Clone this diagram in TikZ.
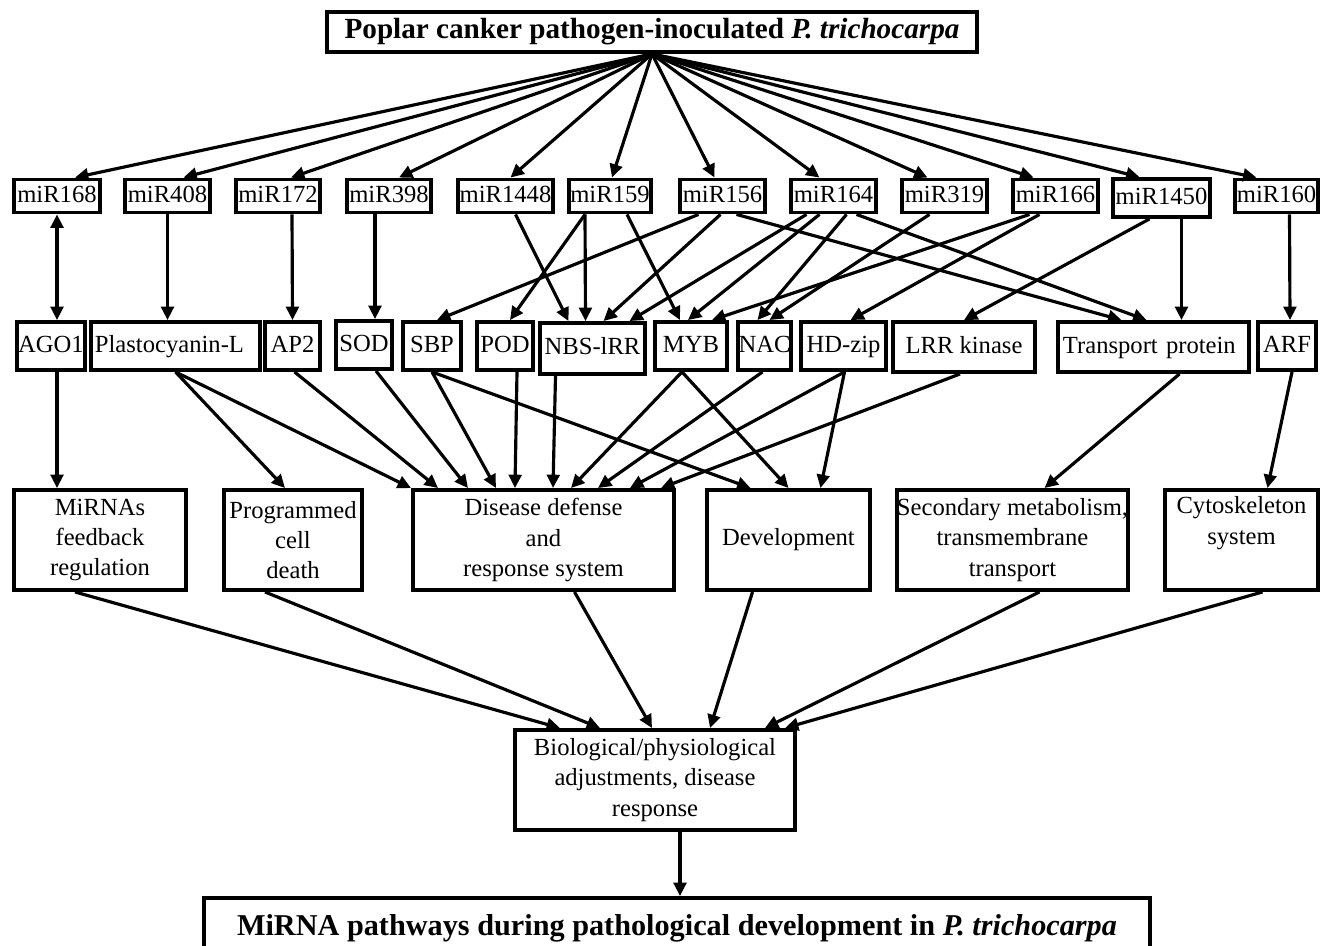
\documentclass[tikz,border=0pt]{standalone}
\usepackage{fontspec}
\setmainfont{Liberation Serif}
\usetikzlibrary{arrows.meta,calc}
\tikzset{
    every node/.style={rectangle, draw, line width=1.1pt, inner sep=0pt, align=center,
      font=\fontsize{7}{8.6}\selectfont},
    mirbox/.style={minimum height=0.33cm, text height=5pt, text depth=1.5pt},
    genebox/.style={minimum height=0.48cm, text height=5pt, text depth=1.5pt},
    funcbox/.style={minimum height=1cm},
    headbox/.style={font=\fontsize{8.3}{10}\selectfont\bfseries},
    arr/.style={line width=0.9pt, -{Triangle[length=3.8pt,width=3.6pt]}},
    twoarr/.style={line width=0.9pt, {Triangle[length=3.8pt,width=3.6pt]}-{Triangle[length=3.8pt,width=3.6pt]}}
}

\begin{document}
\begin{tikzpicture}[x=0.01cm, y=-0.01cm]
  \useasboundingbox (0,0) rectangle (1324,946);
  \node (top) [headbox, minimum width=6.5cm, minimum height=0.4cm] at (652,32) {Poplar canker pathogen-inoculated \textit{P. trichocarpa}};

  % miRNAs
  \node (m168) [mirbox, minimum width=0.86cm] at (57,196) {miR168};
  \node (m408) [mirbox, minimum width=0.85cm] at (167.5,196) {miR408};
  \node (m172) [mirbox, minimum width=0.84cm] at (278,196) {miR172};
  \node (m398) [mirbox, minimum width=0.84cm] at (389,196) {miR398};
  \node (m1448) [mirbox, minimum width=0.95cm] at (505.5,196) {miR1448};
  \node (m159) [mirbox, minimum width=0.82cm] at (610,196) {miR159};
  \node (m156) [mirbox, minimum width=0.85cm] at (722.5,196) {miR156};
  \node (m164) [mirbox, minimum width=0.85cm] at (833.5,196) {miR164};
  \node (m319) [mirbox, minimum width=0.85cm] at (944.5,196) {miR319};
  \node (m166) [mirbox, minimum width=0.85cm] at (1055.5,196) {miR166};
  \node (m1450) [mirbox, minimum height=0.38cm, minimum width=0.97cm] at (1161.5,198) {miR1450};
  \node (m160) [mirbox, minimum width=0.83cm] at (1276.5,196) {miR160};

  % target genes
  \node (ago) [genebox, minimum width=0.68cm] at (51,346) {AGO1};
  \node (plc) [genebox, minimum width=1.69cm, text width=1.61cm, inner xsep=0.04cm, align=left] at (175.5,346) {Plastocyanin-L};
  \node (ap2) [genebox, minimum width=0.55cm] at (292.5,346) {AP2};
  \node (sod) [genebox, minimum width=0.56cm] at (364,345) {SOD};
  \node (sbp) [genebox, minimum width=0.58cm] at (432,346) {SBP};
  \node (pod) [genebox, minimum width=0.56cm] at (505,346) {POD};
  \node (nbs) [genebox, minimum height=0.51cm, minimum width=1.05cm] at (592.5,348.5) {NBS-lRR};
  \node (myb) [genebox, minimum width=0.72cm] at (691,346) {MYB};
  \node (nac) [genebox, minimum width=0.53cm] at (764.5,346) {NAC};
  \node (hdz) [genebox, minimum width=0.85cm] at (843.5,346) {HD-zip};
  \node (lrr) [genebox, minimum height=0.5cm, minimum width=1.42cm] at (964,347) {LRR kinase};
  \node (tra) [genebox, minimum height=0.5cm, minimum width=1.91cm, text width=1.81cm, inner xsep=0.05cm, align=left] at (1153.5,347) {Transport protein};
  \node (arf) [genebox, minimum width=0.58cm] at (1287,346) {ARF};

  % functions
  \node (fb) [funcbox, minimum width=1.72cm] at (100,540) {MiRNAs\\feedback\\regulation};
  \node (pcd) [funcbox, minimum width=1.38cm] at (293,540) {Programmed\\cell\\death};
  \node (dis) [funcbox, minimum width=2.61cm] at (543.5,540) {Disease defense\\and\\response system};
  \node (dev) [funcbox, minimum width=1.63cm] at (788.5,540) {Development};
  \node (sec) [funcbox, minimum width=2.19cm] at (1012.5,540) {Secondary metabolism,\\transmembrane\\transport};
  \node (cyt) [funcbox, minimum width=1.53cm] at (1241.5,540) {Cytoskeleton\\system\\\strut};

  \node (bio) [minimum height=1cm, minimum width=2.8cm] at (655,780) {Biological/physiological\\adjustments, disease\\response};
  \node (fin) [headbox, minimum width=9.45cm, minimum height=0.6cm, font=\fontsize{8.6}{10}\selectfont\bfseries] at (677,928) {MiRNA pathways during pathological development in \textit{P. trichocarpa}};

  % pathogen to miRNAs
  \draw[arr] (top.south) -- ($(m168.north)+(18,0)$);
  \draw[arr] (top.south) -- ($(m408.north)+(16,0)$);
  \draw[arr] (top.south) -- ($(m172.north)+(13,0)$);
  \draw[arr] (top.south) -- ($(m398.north)+(10,0)$);
  \draw[arr] (top.south) -- ($(m1448.north)+(5,0)$);
  \draw[arr] (top.south) -- ($(m159.north)+(2,0)$);
  \draw[arr] (top.south) -- ($(m156.north)+(-8,0)$);
  \draw[arr] (top.south) -- ($(m164.north)+(-14,0)$);
  \draw[arr] (top.south) -- ($(m319.north)+(-17,0)$);
  \draw[arr] (top.south) -- ($(m166.north)+(-22,0)$);
  \draw[arr] (top.south) -- ($(m1450.north)+(-22,0)$);
  \draw[arr] (top.south) -- ($(m160.north)+(-20,0)$);

  % miRNAs to targets
  \draw[twoarr] (m168.south) -- ($(ago.north)+(6,0)$);
  \draw[arr] (m408.south) -- ($(plc.north)+(-8,0)$);
  \draw[arr] ($(m172.south)+(14,0)$) -- (ap2.north);
  \draw[arr] ($(m398.south)+(-14,0)$) -- ($(sod.north)+(11,0)$);
  \draw[arr] ($(m1448.south)+(10,0)$) -- ($(nbs.north)+(-24,0)$);
  \draw[arr] ($(m159.south)+(-25,0)$) -- ($(pod.north)+(5,0)$);
  \draw[arr] ($(m159.south)+(-25,0)$) -- ($(nbs.north)+(-7,0)$);
  \draw[arr] ($(m159.south)+(17,0)$) -- ($(myb.north)+(-11,0)$);
  \draw[arr] ($(m156.south)+(-24,0)$) -- ($(sbp.north)+(5,0)$);
  \draw[arr] ($(m156.south)+(-2,0)$) -- ($(nbs.north)+(11,0)$);
  \draw[arr] ($(m156.south)+(14,0)$) -- ($(tra.north)+(-32,0)$);
  \draw[arr] ($(m164.south)+(-27,0)$) -- ($(nbs.north)+(37,0)$);
  \draw[arr] ($(m164.south)+(-14,0)$) -- ($(myb.north)+(-3,0)$);
  \draw[arr] ($(m164.south)+(13,0)$) -- ($(nac.north)+(-7,0)$);
  \draw[arr] ($(m164.south)+(23,0)$) -- ($(tra.north)+(-7,0)$);
  \draw[arr] ($(m319.south)+(-15,0)$) -- ($(nac.north)+(5,0)$);
  \draw[arr] ($(m166.south)+(-26,0)$) -- ($(myb.north)+(21,0)$);
  \draw[arr] ($(m166.south)+(-16,0)$) -- ($(hdz.north)+(7,0)$);
  \draw[arr] ($(m1450.south)+(-12,0)$) -- (lrr.north);
  \draw[arr] ($(m1450.south)+(20,0)$) -- ($(tra.north)+(28,0)$);
  \draw[arr] ($(m160.south)+(13,0)$) -- ($(arf.north)+(3,0)$);

  % targets to functions
  \draw[arr] ($(ago.south)+(6,0)$) -- ($(fb.north)+(-43,0)$);
  \draw[arr] (plc.south) -- ($(pcd.north)+(-8,0)$);
  \draw[arr] (plc.south) -- (dis.north west);
  \draw[arr] ($(ap2.south)+(2,0)$) -- ($(dis.north west)+(27,0)$);
  \draw[arr] ($(sod.south)+(12,0)$) -- ($(dis.north west)+(57,0)$);
  \draw[arr] (sbp.south) -- ($(dis.north west)+(85,0)$);
  \draw[arr] (sbp.south) -- ($(dev.north)+(-38,0)$);
  \draw[arr] ($(pod.south)+(12,0)$) -- ($(dis.north west)+(104,0)$);
  \draw[arr] ($(nbs.south)+(-37,0)$) -- ($(dis.north west)+(142,0)$);
  \draw[arr] ($(myb.south)+(-9,0)$) -- ($(dis.north west)+(160,0)$);
  \draw[arr] ($(myb.south)+(-9,0)$) -- (dev.north);
  \draw[arr] ($(nac.south)+(-2,0)$) -- ($(dis.north west)+(187,0)$);
  \draw[arr] ($(hdz.south)+(1,0)$) -- ($(dis.north west)+(219,0)$);
  \draw[arr] ($(hdz.south)+(1,0)$) -- ($(dev.north)+(32,0)$);
  \draw[arr] ($(lrr.south)+(-4,0)$) -- ($(dis.north west)+(250,0)$);
  \draw[arr] ($(tra.south)+(26,0)$) -- ($(sec.north)+(32,0)$);
  \draw[arr] ($(arf.south)+(5,0)$) -- ($(cyt.north)+(26,0)$);

  % functions to adjustments
  \draw[arr] ($(fb.south)+(-25,0)$) -- ($(bio.north)+(-95,0)$);
  \draw[arr] ($(pcd.south)+(-28,0)$) -- ($(bio.north)+(-55,0)$);
  \draw[arr] ($(dis.south)+(31,0)$) -- ($(bio.north)+(-3,0)$);
  \draw[arr] ($(dev.south)+(-36,0)$) -- ($(bio.north)+(55,0)$);
  \draw[arr] ($(sec.south)+(27,0)$) -- ($(bio.north)+(110,0)$);
  \draw[arr] ($(cyt.south)+(21,0)$) -- ($(bio.north)+(130,0)$);
  \draw[arr] ($(bio.south)+(25,0)$) -- ($(fin.north)+(3,0)$);
\end{tikzpicture}
\end{document}
